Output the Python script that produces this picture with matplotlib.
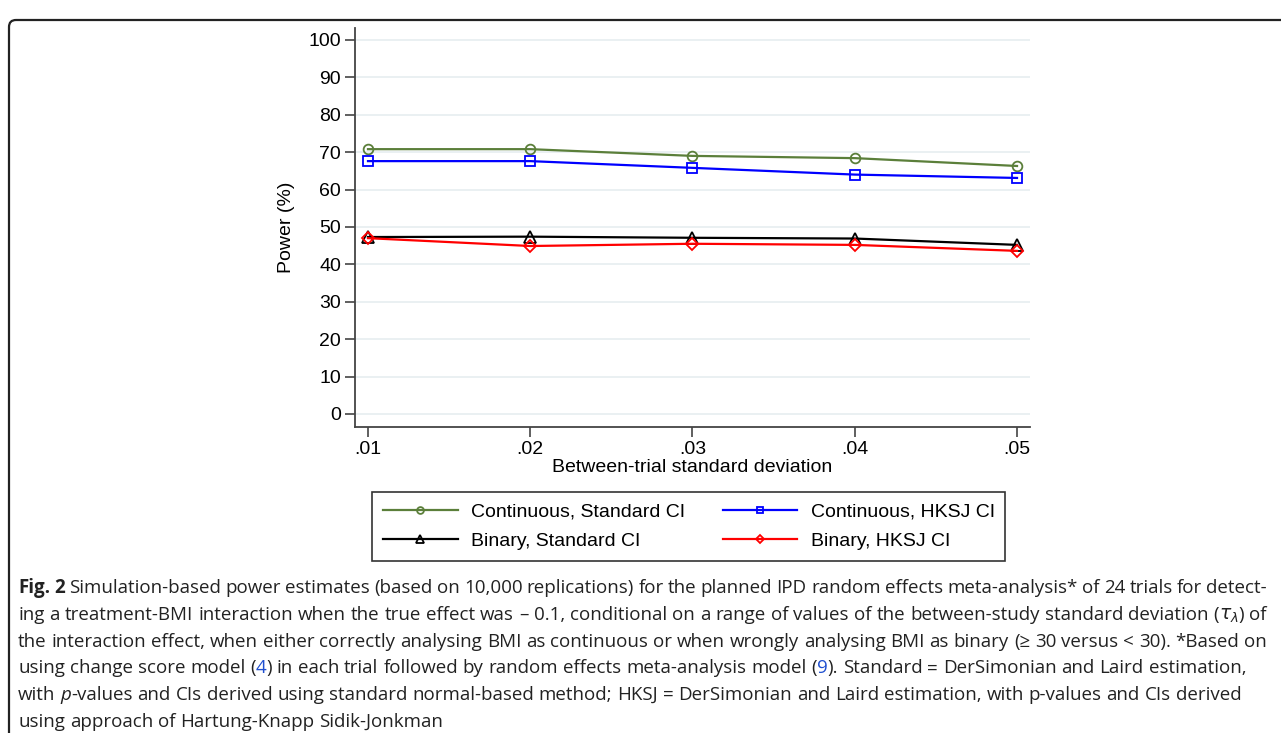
import matplotlib
matplotlib.use("Agg")
import matplotlib.pyplot as plt
from matplotlib.patches import FancyBboxPatch
from matplotlib.transforms import IdentityTransform

# values (power in %)
sd = [0.01, 0.02, 0.03, 0.04, 0.05]
cont_standard = [70.8, 70.8, 69.0, 68.4, 66.3]
cont_hksj = [67.6, 67.6, 65.8, 64.0, 63.1]
bin_standard = [47.3, 47.4, 47.1, 46.9, 45.2]
bin_hksj = [47.0, 44.9, 45.5, 45.2, 43.6]

xtick_labels = [".01", ".02", ".03", ".04", ".05"]
yticks = list(range(0, 101, 10))
series_labels = [
    "Continuous, Standard CI",
    "Continuous, HKSJ CI",
    "Binary, Standard CI",
    "Binary, HKSJ CI",
]

caption_lines = [
    [("Fig. 2", "b"), (" Simulation-based power estimates (based on 10,000 replications) for the planned IPD "
                       "random effects meta-analysis* of 24 trials for detect-", "n")],
    [("ing a treatment-BMI interaction when the true effect was \u2013 0.1, conditional on a range of values "
      "of the between-study standard deviation (", "n"), (r"$\tau_\lambda$", "n"), (") of", "n")],
    [("the interaction effect, when either correctly analysing BMI as continuous or when wrongly analysing "
      "BMI as binary (\u2265 30 versus < 30). *Based on", "n")],
    [("using change score model (", "n"), ("4", "l"), (") in each trial followed by random effects "
      "meta-analysis model (", "n"), ("9", "l"), ("). Standard = DerSimonian and Laird estimation,", "n")],
    [("with ", "n"), ("p", "i"), ("-values and CIs derived using standard normal-based method; HKSJ = "
      "DerSimonian and Laird estimation, with p-values and CIs derived", "n")],
    [("using approach of Hartung-Knapp Sidik-Jonkman", "n")],
]
justified = [True, True, True, False, False, False]

plt.rcParams["font.family"] = ["Liberation Sans", "DejaVu Sans"]
plt.rcParams["mathtext.fontset"] = "dejavusans"

W, H = 1281, 733
fig = plt.figure(figsize=(W / 100, H / 100), dpi=100)
fig.patch.set_facecolor("white")

ax = fig.add_axes([355 / W, 1 - 427 / H, 675 / W, 399 / H])
ax.plot(sd, cont_standard, color="#5b7f3a", lw=1.6, marker="o", ms=7,
        mfc="none", mew=1.3, label=series_labels[0])
ax.plot(sd, cont_hksj, color="#0000ff", lw=1.6, marker="s", ms=7,
        mfc="none", mew=1.3, label=series_labels[1])
ax.plot(sd, bin_standard, color="black", lw=1.6, marker="^", ms=8,
        mfc="none", mew=1.3, label=series_labels[2])
ax.plot(sd, bin_hksj, color="#ff0000", lw=1.6, marker="D", ms=6.5,
        mfc="none", mew=1.3, label=series_labels[3])

ax.set_xlim(0.0092, 0.0508)
ax.set_ylim(-3.5, 103.2)
ax.set_xticks(sd)
ax.set_xticklabels(xtick_labels)
ax.set_yticks(yticks)
ax.yaxis.grid(True, color="#e8eff1", lw=1.3)
ax.set_axisbelow(True)
for side in ["top", "right"]:
    ax.spines[side].set_visible(False)
for side in ["left", "bottom"]:
    ax.spines[side].set_color("#444444")
    ax.spines[side].set_linewidth(1.3)
ax.tick_params(axis="both", direction="out", length=7, width=1.2,
               color="#444444", labelsize=14, pad=3)
ax.set_ylabel("Power (%)", fontsize=14, labelpad=10)
ax.set_xlabel("Between-trial standard deviation", fontsize=14, labelpad=1)

# legend fills by column, so order handles to get Continuous on row 1
handles, labels = ax.get_legend_handles_labels()
order = [0, 2, 1, 3]
leg = fig.legend([handles[i] for i in order], [labels[i] for i in order],
                 ncol=2, loc="upper left",
                 bbox_to_anchor=(372 / W, 1 - 492 / H), frameon=True,
                 fancybox=False, edgecolor="black", fontsize=14,
                 handlelength=3.85, handletextpad=0.67, columnspacing=1.95,
                 borderpad=0.55, labelspacing=0.62, markerscale=0.7,
                 borderaxespad=0)
leg.get_frame().set_linewidth(1.2)

# caption box (rounded, runs off the right and bottom edge)
fig.add_artist(FancyBboxPatch((9, -40), 1320, 763 - 10,
                              boxstyle="round,pad=0,rounding_size=7",
                              transform=IdentityTransform(), fill=False,
                              lw=1.6, ec="#222222"))

renderer = fig.canvas.get_renderer()


def cap_props(style):
    p = dict(family=["Open Sans", "DejaVu Sans"], fontsize=13.5, color="#222222")
    if style == "b":
        p["weight"] = "bold"
    if style == "i":
        p["style"] = "italic"
    if style == "l":
        p["color"] = "#1f4fd0"
    return p


def text_width(s, style):
    t = fig.text(0, 0, s, transform=IdentityTransform(), **cap_props(style))
    w = t.get_window_extent(renderer=renderer).width
    t.remove()
    return w


space_w = text_width("a a", "n") - text_width("aa", "n")


def draw_caption_line(runs, baseline, x0=18, right=1267, justify=False):
    tokens = []
    pending = False
    for text, style in runs:
        parts = text.split(" ") if not text.startswith("$") else [text]
        for i, part in enumerate(parts):
            if i > 0:
                pending = True
            if part:
                tokens.append((part, style, pending and bool(tokens)))
                pending = False
    widths = [text_width(p, s) for p, s, _ in tokens]
    gaps = sum(1 for _, _, sp in tokens if sp)
    gap = space_w
    if justify and gaps:
        gap = (right - x0 - sum(widths)) / gaps
    x = x0
    for (part, style, sp), w in zip(tokens, widths):
        if sp:
            x += gap
        fig.text(x, baseline, part, transform=IdentityTransform(),
                 va="baseline", ha="left", **cap_props(style))
        x += w


for i, (runs, just) in enumerate(zip(caption_lines, justified)):
    draw_caption_line(runs, H - (593 + 26.8 * i), justify=just)

fig.savefig("out.png", dpi=100)
